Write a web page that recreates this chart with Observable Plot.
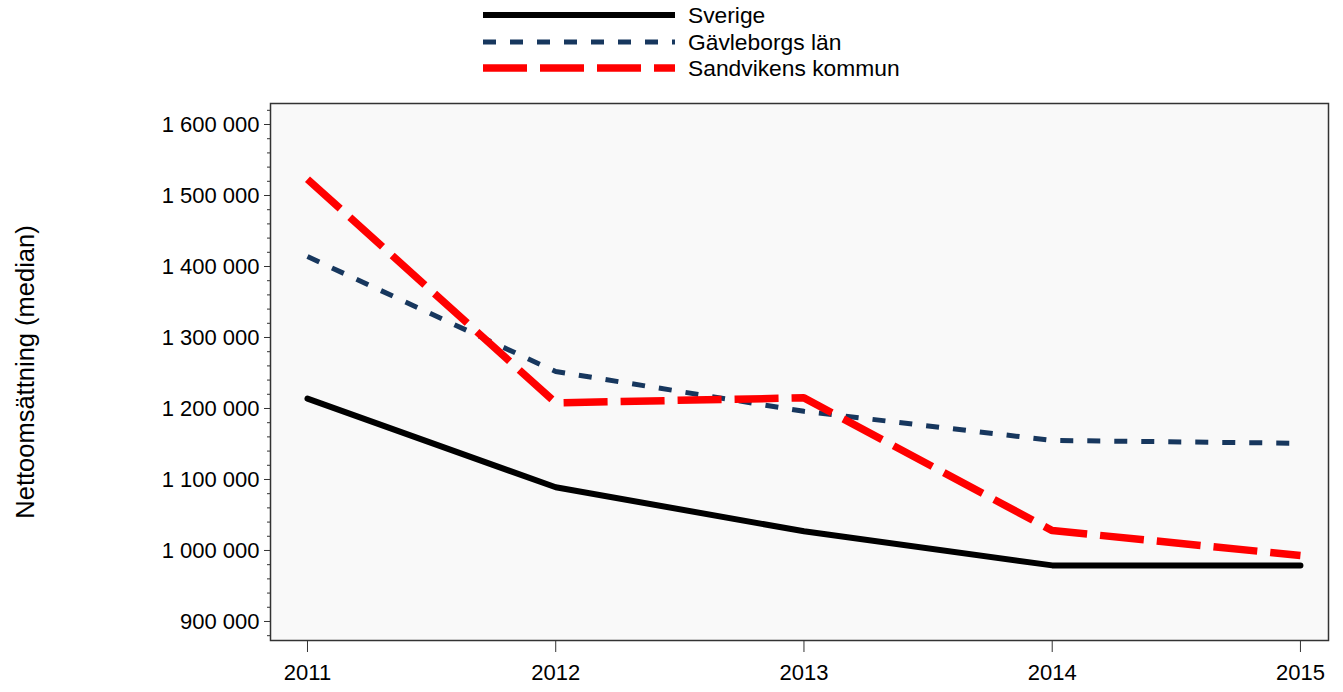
<!DOCTYPE html>
<html>
<head>
<meta charset="utf-8">
<script src="https://cdn.jsdelivr.net/npm/d3@7"></script>
<script src="https://cdn.jsdelivr.net/npm/@observablehq/plot@0.6"></script>
<style>
  body { margin: 0; background: #fff; font-family: "Liberation Sans", Arial, sans-serif; }
  #legend { display: block; }
</style>
</head>
<body>
<div id="chart"></div>
<script>
const years = [2011, 2012, 2013, 2014, 2015];
const seriesNames = ["Sverige", "Gävleborgs län", "Sandvikens kommun"];
const sverige = [1214000, 1089000, 1027000, 979000, 979000];
const gavleborg = [1414000, 1252000, 1196000, 1155000, 1151000];
const sandviken = [1523000, 1208000, 1215000, 1028000, 993000];
const yTicks = [900000, 1000000, 1100000, 1200000, 1300000, 1400000, 1500000, 1600000];
const yLabel = "Nettoomsättning (median)";

const styles = [
  {stroke: "#000000", width: 6, dash: null},
  {stroke: "#17375e", width: 5, dash: "13,14"},
  {stroke: "#ff0000", width: 7.5, dash: "44,13"}
];
const values = [sverige, gavleborg, sandviken];
const data = seriesNames.map((name, i) => years.map((y, j) => ({series: name, year: y, value: values[i][j]})));

const fmt = v => d3.format(",")(v).replace(/,/g, " ");
const minorTicks = d3.range(880000, 1630001, 20000).filter(v => v % 100000 !== 0);

const container = document.getElementById("chart");

// Legend
const legend = d3.create("svg").attr("id", "legend").attr("width", 1343).attr("height", 88)
  .style("font-family", "'Liberation Sans', Arial, sans-serif");
const rowsY = [15, 42, 68];
seriesNames.forEach((name, i) => {
  const s = styles[i];
  legend.append("line").attr("x1", 483).attr("x2", 675).attr("y1", rowsY[i]).attr("y2", rowsY[i])
    .attr("stroke", s.stroke).attr("stroke-width", s.width).attr("stroke-dasharray", s.dash);
  legend.append("text").attr("x", 688).attr("y", rowsY[i]).attr("dy", "0.36em")
    .attr("font-size", 22.8).attr("fill", "#000").text(name);
});
container.appendChild(legend.node());

const plot = Plot.plot({
  width: 1343,
  height: 604,
  marginTop: 15,
  marginBottom: 52,
  marginLeft: 270,
  marginRight: 15,
  style: {fontFamily: "'Liberation Sans', Arial, sans-serif", fontSize: "22px", color: "#000", background: "#fff"},
  x: {domain: [2010.851, 2015.113]},
  y: {domain: [873200, 1629600]},
  marks: [
    Plot.frame({fill: "#f9f9f9", stroke: null}),
    ...data.map((d, i) => Plot.lineY(d, {
      x: "year", y: "value",
      stroke: styles[i].stroke, strokeWidth: styles[i].width,
      strokeDasharray: styles[i].dash, strokeLinecap: styles[i].dash ? "butt" : "round",
      strokeLinejoin: "miter"
    })),
    Plot.frame({stroke: "#333", strokeWidth: 1.5}),
    Plot.axisY({ticks: minorTicks, tickSize: 3, text: null, label: null, stroke: "#333"}),
    Plot.axisY({ticks: yTicks, tickSize: 6, tickPadding: 5, tickFormat: fmt, label: null, stroke: "#333", fontSize: 22, fill: "#000"}),
    Plot.axisX({ticks: years, tickSize: 12, tickPadding: 12, tickFormat: "d", label: null, stroke: "#333", fontSize: 22, fill: "#000"}),
    Plot.text([yLabel], {frameAnchor: "left", dx: -245, rotate: -90, textAnchor: "middle", fontSize: 25.5, fill: "#000"})
  ]
});
container.appendChild(plot);
</script>
</body>
</html>
